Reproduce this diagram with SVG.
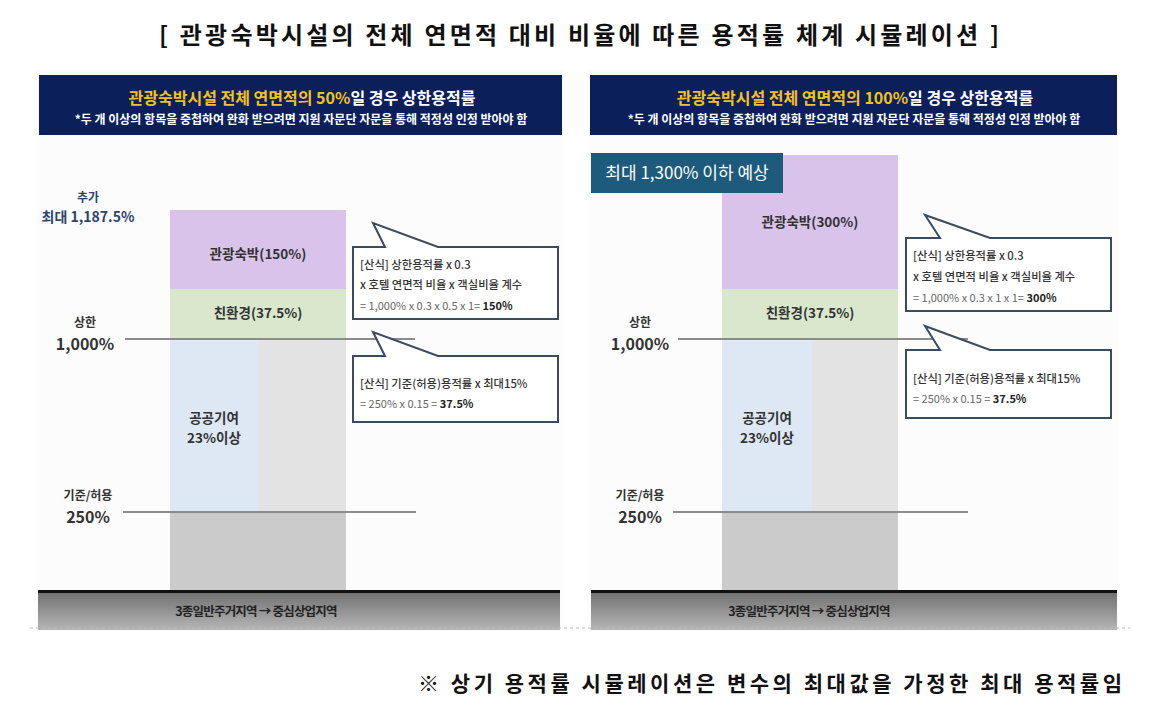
<svg xmlns="http://www.w3.org/2000/svg" width="1152" height="703" viewBox="0 0 1152 703">
<defs>
<linearGradient id="gnd" x1="0" y1="0" x2="0" y2="1">
<stop offset="0" stop-color="#6e6e6e"/>
<stop offset="1" stop-color="#b6b6b6"/>
</linearGradient>
<style>
text{font-family:"Noto Sans CJK KR","Noto Sans",sans-serif;}
.hd1{font-size:16px;font-weight:700;fill:#ffffff;text-anchor:middle;}
.hd2{font-size:12px;font-weight:700;fill:#ffffff;text-anchor:middle;}
.yl{fill:#f4c21c;}
.bl{font-size:13.5px;font-weight:700;fill:#333333;text-anchor:middle;}
.axs{font-size:12px;font-weight:700;fill:#333333;text-anchor:middle;}
.axb{font-size:16px;font-weight:700;fill:#333333;text-anchor:middle;}
.ct{font-size:11.3px;fill:#333333;font-weight:500;}
.cg{font-size:11px;fill:#666666;}
.cb{font-weight:700;fill:#222222;}
.co{fill:#ffffff;stroke:#3b4a5c;stroke-width:2;}
.lvl{stroke:#8c8c8c;stroke-width:2;fill:none;}
.gt{font-size:12.5px;font-weight:700;fill:#222222;text-anchor:middle;letter-spacing:-0.8px;}
</style>
</defs>
<rect width="1152" height="703" fill="#ffffff"/>
<rect x="37" y="70" width="527" height="560" fill="#fcfcfc"/>
<rect x="588" y="70" width="531" height="560" fill="#fcfcfc"/>

<text x="579" y="44" text-anchor="middle" font-size="24" font-weight="700" fill="#111" textLength="840" lengthAdjust="spacing">[ 관광숙박시설의 전체 연면적 대비 비율에 따른 용적률 체계 시뮬레이션 ]</text>

<!-- LEFT PANEL -->
<g id="left-header">
<rect x="39" y="75" width="523" height="60" fill="#0b1f5b"/>
<text class="hd1" x="302" y="104"><tspan class="yl">관광숙박시설 전체 연면적의 50%</tspan>일 경우 상한용적률</text>
<text class="hd2" x="301" y="124">*두 개 이상의 항목을 중첩하여 완화 받으려면 지원 자문단 자문을 통해 적정성 인정 받아야 함</text>
</g>
<g id="left-bar">
<rect x="170" y="210" width="176" height="79" fill="#d9c3ea"/>
<rect x="170" y="289" width="176" height="49" fill="#d9e8cc"/>
<rect x="170" y="338" width="89" height="174" fill="#dde8f4"/>
<rect x="259" y="338" width="87" height="174" fill="#e3e3e3"/>
<rect x="170" y="512" width="176" height="80" fill="#cbcbcb"/>
<text class="bl" x="258" y="259">관광숙박(150%)</text>
<text class="bl" x="258" y="318">친환경(37.5%)</text>
<text class="bl" x="214" y="423">공공기여</text>
<text class="bl" x="214" y="443">23%이상</text>
</g>
<g id="left-axis">
<text x="88" y="202" text-anchor="middle" font-size="12" font-weight="700" fill="#2f4468">추가</text>
<text x="88" y="222" text-anchor="middle" font-size="14" font-weight="700" fill="#2f4468">최대 1,187.5%</text>
<text class="axs" x="85" y="327">상한</text>
<text class="axb" x="85" y="350">1,000%</text>
<text class="axs" x="88" y="500">기준/허용</text>
<text class="axb" x="88" y="523">250%</text>
</g>
<g id="left-ground">
<rect x="38" y="591" width="522" height="39" fill="url(#gnd)"/>
<rect x="38" y="590" width="522" height="3" fill="#111"/>
<text class="gt" x="256" y="616">3종일반주거지역 → 중심상업지역</text>
</g>

<!-- RIGHT PANEL -->
<g id="right-header">
<rect x="590" y="75" width="527" height="60" fill="#0b1f5b"/>
<text class="hd1" x="855" y="104"><tspan class="yl">관광숙박시설 전체 연면적의 100%</tspan>일 경우 상한용적률</text>
<text class="hd2" x="854" y="124">*두 개 이상의 항목을 중첩하여 완화 받으려면 지원 자문단 자문을 통해 적정성 인정 받아야 함</text>
</g>
<g id="right-bar">
<rect x="722" y="155" width="176" height="134" fill="#d9c3ea"/>
<rect x="722" y="289" width="176" height="49" fill="#d9e8cc"/>
<rect x="722" y="338" width="90" height="174" fill="#dde8f4"/>
<rect x="812" y="338" width="86" height="174" fill="#e3e3e3"/>
<rect x="722" y="512" width="176" height="80" fill="#cbcbcb"/>
<text class="bl" x="810" y="227">관광숙박(300%)</text>
<text class="bl" x="810" y="318">친환경(37.5%)</text>
<text class="bl" x="767" y="423">공공기여</text>
<text class="bl" x="767" y="443">23%이상</text>
</g>
<g id="right-max">
<rect x="591" y="153" width="192" height="40" fill="#1d5a7b"/>
<text x="687" y="179" text-anchor="middle" font-size="17" fill="#ffffff">최대 1,300% 이하 예상</text>
</g>
<g id="right-axis">
<text class="axs" x="640" y="327">상한</text>
<text class="axb" x="640" y="350">1,000%</text>
<text class="axs" x="640" y="500">기준/허용</text>
<text class="axb" x="640" y="523">250%</text>
</g>
<g id="right-ground">
<rect x="591" y="591" width="526" height="39" fill="url(#gnd)"/>
<rect x="591" y="590" width="526" height="3" fill="#111"/>
<text class="gt" x="809" y="616">3종일반주거지역 → 중심상업지역</text>
</g>

<g id="connectors">
<line class="lvl" x1="125" y1="339" x2="415" y2="339"/>
<line class="lvl" x1="123" y1="512" x2="416" y2="512"/>
<line class="lvl" x1="678" y1="339" x2="968" y2="339"/>
<line class="lvl" x1="673" y1="512" x2="968" y2="512"/>
<line x1="30" y1="628" x2="1130" y2="628" stroke="#bbbbbb" stroke-width="1" stroke-dasharray="3,3"/>
</g>

<!-- CALLOUTS -->
<g id="left-callout1">
<path class="co" d="M353,247 L385,247 L373,223 L438,247 L558,247 L558,319 L353,319 Z"/>
<text class="ct" x="360" y="269">[산식] 상한용적률 x 0.3</text>
<text class="ct" x="360" y="289">x 호텔 연면적 비율 x 객실비율 계수</text>
<text class="cg" x="360" y="310">= 1,000% x 0.3 x 0.5 x 1= <tspan class="cb">150%</tspan></text>
</g>
<g id="left-callout2">
<path class="co" d="M353,356 L385,356 L373,332 L438,356 L558,356 L558,422 L353,422 Z"/>
<text class="ct" x="360" y="388">[산식] 기준(허용)용적률 x 최대15%</text>
<text class="cg" x="360" y="408">= 250% x 0.15 = <tspan class="cb">37.5%</tspan></text>
</g>
<g id="right-callout1">
<path class="co" d="M906,238 L940,238 L925,215 L990,238 L1111,238 L1111,311 L906,311 Z"/>
<text class="ct" x="913" y="260">[산식] 상한용적률 x 0.3</text>
<text class="ct" x="913" y="281">x 호텔 연면적 비율 x 객실비율 계수</text>
<text class="cg" x="913" y="302">= 1,000% x 0.3 x 1 x 1= <tspan class="cb">300%</tspan></text>
</g>
<g id="right-callout2">
<path class="co" d="M906,350 L940,350 L925,326 L990,350 L1111,350 L1111,418 L906,418 Z"/>
<text class="ct" x="913" y="383">[산식] 기준(허용)용적률 x 최대15%</text>
<text class="cg" x="913" y="403">= 250% x 0.15 = <tspan class="cb">37.5%</tspan></text>
</g>

<text x="418" y="691" font-size="21" font-weight="700" fill="#111" textLength="704" lengthAdjust="spacing">※  상기 용적률 시뮬레이션은 변수의 최대값을 가정한 최대 용적률임</text>
</svg>
